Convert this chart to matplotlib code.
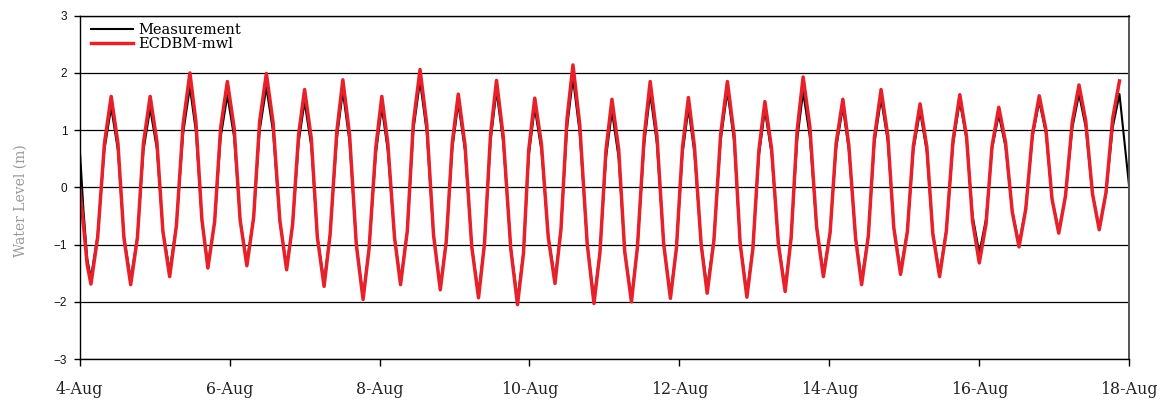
import numpy as np
import pandas as pd
import matplotlib
matplotlib.use('Agg')
import matplotlib.pyplot as plt

# time in days from 4-Aug 00:00, water level in m
day = [0.00, 0.05, 0.10,
       0.15, 0.24, 0.33, 0.42, 0.51, 0.59, 0.68, 0.77, 0.85, 0.94, 1.03, 1.11,
       1.20, 1.29, 1.38, 1.47, 1.55, 1.63, 1.71, 1.80, 1.88, 1.97, 2.06, 2.14,
       2.23, 2.32, 2.40, 2.49, 2.58, 2.67, 2.76, 2.84, 2.92, 3.00, 3.09, 3.17,
       3.26, 3.34, 3.43, 3.51, 3.60, 3.69, 3.78, 3.86, 3.95, 4.03, 4.11, 4.20,
       4.28, 4.37, 4.45, 4.54, 4.63, 4.72, 4.81, 4.89, 4.97, 5.05, 5.14, 5.23,
       5.32, 5.40, 5.48, 5.56, 5.65, 5.75, 5.84, 5.92, 5.99, 6.07, 6.16, 6.25,
       6.34, 6.42, 6.50, 6.58, 6.67, 6.77, 6.86, 6.94, 7.02, 7.10, 7.19, 7.27,
       7.36, 7.44, 7.53, 7.61, 7.70, 7.79, 7.88, 7.96, 8.04, 8.12, 8.20, 8.29,
       8.37, 8.46, 8.55, 8.64, 8.73, 8.81, 8.90, 8.98, 9.06, 9.14, 9.23, 9.32,
       9.41, 9.49, 9.57, 9.65, 9.74, 9.83, 9.92, 10.01, 10.09, 10.18, 10.26, 10.35,
       10.43, 10.52, 10.60, 10.69, 10.78, 10.86, 10.95, 11.04, 11.12, 11.21, 11.30, 11.38,
       11.47, 11.56, 11.65, 11.74, 11.83, 11.91, 12.00, 12.09, 12.17, 12.26, 12.35, 12.44,
       12.53, 12.62, 12.71, 12.80, 12.89, 12.97, 13.06, 13.15, 13.24, 13.33, 13.42, 13.51,
       13.60, 13.69, 13.78, 13.87, 14.00]

measured = [0.70, -0.40, -1.25,
            -1.58, -0.83, 0.66, 1.40, 0.65, -0.85, -1.60, -0.86, 0.64, 1.38, 0.67, -0.75,
            -1.46, -0.66, 0.95, 1.75, 0.98, -0.58, -1.35, -0.61, 0.87, 1.61, 0.88, -0.57,
            -1.30, -0.54, 0.99, 1.75, 0.97, -0.60, -1.38, -0.66, 0.78, 1.50, 0.71, -0.86,
            -1.65, -0.82, 0.85, 1.68, 0.79, -1.00, -1.90, -1.08, 0.58, 1.40, 0.64, -0.88,
            -1.64, -0.77, 0.99, 1.86, 0.96, -0.84, -1.74, -0.94, 0.67, 1.47, 0.64, -1.03,
            -1.86, -0.97, 0.80, 1.69, 0.78, -1.05, -1.96, -1.12, 0.55, 1.39, 0.64, -0.85,
            -1.60, -0.72, 1.03, 1.91, 0.95, -0.99, -1.95, -1.13, 0.51, 1.33, 0.51, -1.12,
            -1.94, -1.05, 0.75, 1.64, 0.76, -1.00, -1.88, -1.07, 0.57, 1.38, 0.60, -0.98,
            -1.76, -0.90, 0.82, 1.68, 0.80, -0.97, -1.85, -1.05, 0.55, 1.35, 0.58, -0.98,
            -1.75, -0.90, 0.82, 1.67, 0.88, -0.71, -1.50, -0.78, 0.68, 1.40, 0.65, -0.87,
            -1.62, -0.83, 0.76, 1.55, 0.80, -0.70, -1.45, -0.76, 0.64, 1.33, 0.62, -0.79,
            -1.50, -0.75, 0.75, 1.50, 0.84, -0.49, -1.15, -0.55, 0.67, 1.27, 0.71, -0.42,
            -0.98, -0.36, 0.88, 1.50, 0.94, -0.20, -0.76, -0.16, 1.03, 1.63, 1.05, -0.12,
            -0.70, -0.12, 1.05, 1.63, 0.00]

ecdbm = [0.00, -0.65, -1.35,
         -1.69, -0.87, 0.77, 1.59, 0.77, -0.88, -1.70, -0.88, 0.77, 1.59, 0.80, -0.77,
         -1.56, -0.67, 1.11, 2.00, 1.15, -0.56, -1.41, -0.60, 1.04, 1.85, 1.04, -0.57,
         -1.37, -0.53, 1.15, 1.99, 1.13, -0.58, -1.44, -0.65, 0.92, 1.71, 0.85, -0.87,
         -1.73, -0.83, 0.98, 1.88, 0.92, -1.00, -1.96, -1.07, 0.70, 1.59, 0.77, -0.88,
         -1.70, -0.76, 1.12, 2.06, 1.10, -0.83, -1.79, -0.94, 0.78, 1.63, 0.74, -1.04,
         -1.93, -0.98, 0.92, 1.87, 0.89, -1.07, -2.05, -1.15, 0.66, 1.56, 0.75, -0.87,
         -1.68, -0.73, 1.19, 2.14, 1.10, -0.99, -2.03, -1.14, 0.65, 1.54, 0.66, -1.12,
         -2.00, -1.04, 0.89, 1.85, 0.90, -0.99, -1.94, -1.06, 0.69, 1.57, 0.72, -1.00,
         -1.85, -0.93, 0.93, 1.85, 0.91, -0.98, -1.92, -1.07, 0.65, 1.50, 0.67, -0.99,
         -1.82, -0.88, 0.99, 1.93, 1.06, -0.69, -1.56, -0.79, 0.77, 1.54, 0.73, -0.89,
         -1.70, -0.85, 0.86, 1.71, 0.90, -0.71, -1.52, -0.78, 0.72, 1.46, 0.71, -0.81,
         -1.56, -0.77, 0.83, 1.62, 0.89, -0.59, -1.32, -0.64, 0.72, 1.40, 0.79, -0.43,
         -1.04, -0.38, 0.94, 1.60, 1.00, -0.20, -0.80, -0.15, 1.14, 1.79, 1.16, -0.11,
         -0.74, -0.09, 1.21, 1.86, np.nan]

tick_labels = ['4-Aug', '6-Aug', '8-Aug', '10-Aug', '12-Aug', '14-Aug', '16-Aug', '18-Aug']

start = pd.Timestamp('2008-08-04')
t = start + pd.to_timedelta(day, unit='D')
ticks = pd.date_range(start, periods=len(tick_labels), freq='2D')

fig = plt.figure(figsize=(11.72, 4.08), dpi=100)
ax = fig.add_axes([0.068, 0.120, 0.8955, 0.8415])

ax.plot(t, measured, color='black', lw=1.5, label='Measurement')
ax.plot(t, ecdbm, color='#e8202a', lw=2.5, label='ECDBM-mwl')

ax.set_xlim(start, start + pd.Timedelta(days=14))
ax.set_ylim(-3, 3)
ax.set_yticks(range(-3, 4))
ax.set_xticks(ticks, tick_labels)
ax.yaxis.grid(True, color='black', lw=0.9)
ax.set_axisbelow(True)

for lab in ax.get_yticklabels():
    lab.set_family('Liberation Sans')
    lab.set_fontsize(8.5)
    lab.set_color('#111111')
for lab in ax.get_xticklabels():
    lab.set_family('DejaVu Serif')
    lab.set_fontsize(11.4)
    lab.set_color('#222222')
ax.tick_params(axis='y', direction='out', length=4, width=1, pad=5)
ax.tick_params(axis='x', direction='out', length=5, width=1, pad=11)

for side in ['left', 'top', 'bottom']:
    ax.spines[side].set_color('black')
    ax.spines[side].set_linewidth(1.0)
ax.spines['right'].set_color('#555555')
ax.spines['right'].set_linewidth(1.4)

ax.set_ylabel('Water Level (m)', family='DejaVu Serif', fontsize=10, color='#999999')
ax.yaxis.set_label_coords(-0.050, 0.46)

ax.legend(loc='upper left', bbox_to_anchor=(0.0, 1.01), frameon=False,
          prop={'family': 'DejaVu Serif', 'size': 10.5},
          handlelength=2.9, handletextpad=0.35, labelspacing=-0.02,
          borderaxespad=0.35)

plt.savefig('out.png', dpi=100)
plt.close()
